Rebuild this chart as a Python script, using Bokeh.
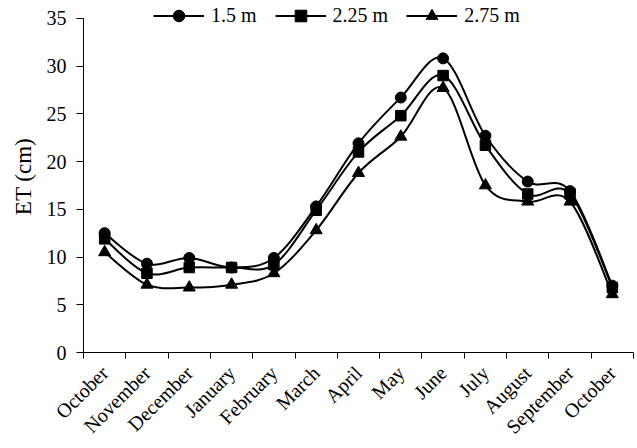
import math
from bokeh.plotting import figure
from bokeh.models import Range1d, FixedTicker, Legend, LegendItem, Title
from bokeh.embed import file_html
from bokeh.resources import INLINE

months = ["October", "November", "December", "January", "February", "March",
          "April", "May", "June", "July", "August", "September", "October"]
et_150 = [12.5, 9.3, 9.9, 8.9, 9.9, 15.3, 21.9, 26.7, 30.8, 22.7, 17.9, 16.9, 7.0]
et_225 = [11.9, 8.3, 8.9, 8.9, 9.2, 14.9, 21.0, 24.8, 29.0, 21.7, 16.6, 16.6, 6.8]
et_275 = [10.5, 7.1, 6.8, 7.1, 8.3, 12.8, 18.8, 22.6, 27.7, 17.5, 15.8, 15.8, 6.1]
series_labels = ["1.5 m", "2.25 m", "2.75 m"]
y_ticks = [0, 5, 10, 15, 20, 25, 30, 35]

FONT = "Liberation Serif"
xs = list(range(len(months)))

# frame runs to the very top so the legend (which straddles the 35 line) is not clipped
p = figure(width=637, height=448, output_backend="svg", toolbar_location=None,
           x_range=Range1d(-0.5, len(months) - 0.5), y_range=Range1d(0, 36.86),
           min_border_left=81, min_border_right=4, min_border_top=0,
           min_border_bottom=92)
p.outline_line_color = None
p.xgrid.visible = False
p.ygrid.visible = False
p.background_fill_color = "white"
p.border_fill_color = "white"

xa = p.xaxis[0]
xa.ticker = FixedTicker(ticks=xs, minor_ticks=[i - 0.5 for i in range(len(months) + 1)])
xa.major_label_overrides = {i: m for i, m in enumerate(months)}
xa.major_label_orientation = math.pi / 4
xa.major_tick_out = 0
xa.major_tick_in = 0
xa.minor_tick_out = 6
xa.minor_tick_in = 0
xa.minor_tick_line_color = "black"
xa.axis_line_color = "black"
xa.major_label_text_font = FONT
xa.major_label_text_font_size = "20px"
xa.major_label_text_color = "black"
xa.major_label_standoff = 11

ya = p.yaxis[0]
ya.ticker = FixedTicker(ticks=y_ticks)
ya.bounds = (0, 35)
ya.major_tick_out = 7
ya.major_tick_in = 0
ya.minor_tick_line_color = None
ya.axis_line_color = "black"
ya.major_tick_line_color = "black"
ya.major_label_text_font = FONT
ya.major_label_text_font_size = "20px"
ya.major_label_text_color = "black"
ya.major_label_standoff = 10


def smooth(xv, yv, t=1.0 / 6):
    n = len(xv)
    x0, y0, x1, y1, cx0, cy0, cx1, cy1 = [], [], [], [], [], [], [], []
    for i in range(n - 1):
        im = max(i - 1, 0)
        ip2 = min(i + 2, n - 1)
        x0.append(xv[i]); y0.append(yv[i])
        x1.append(xv[i + 1]); y1.append(yv[i + 1])
        cx0.append(xv[i] + (xv[i + 1] - xv[im]) * t)
        cy0.append(yv[i] + (yv[i + 1] - yv[im]) * t)
        cx1.append(xv[i + 1] - (xv[ip2] - xv[i]) * t)
        cy1.append(yv[i + 1] - (yv[ip2] - yv[i]) * t)
    return dict(x0=x0, y0=y0, x1=x1, y1=y1, cx0=cx0, cy0=cy0, cx1=cx1, cy1=cy1)


items = []
markers = [("circle", 11), ("square", 10.5), ("triangle", 12)]
for vals, lab, (mk, sz) in zip([et_150, et_225, et_275], series_labels, markers):
    s = smooth(xs, vals)
    p.bezier(**s, line_color="black", line_width=2)
    sc = p.scatter(xs, vals, marker=mk, size=sz, fill_color="black", line_color="black")
    # legend-only proxy line (a single NaN point draws nothing in the plot)
    ln = p.line(x=[0], y=[float("nan")], line_color="black", line_width=2)
    items.append(LegendItem(label=lab, renderers=[ln, sc]))

legend = Legend(items=items, orientation="horizontal", location=(70, 322),
                glyph_width=51, glyph_height=29, label_standoff=7, spacing=18,
                padding=0, margin=0, border_line_color=None,
                background_fill_alpha=0, label_text_font=FONT,
                label_text_font_size="20px", label_text_color="black")
p.add_layout(legend, "center")

ytitle = Title(text="ET (cm)", align="center", offset=21, standoff=16,
               text_font=FONT, text_font_size="23px", text_font_style="normal",
               text_color="black")
p.add_layout(ytitle, "left")

open("out.html", "w").write(file_html(p, INLINE))
